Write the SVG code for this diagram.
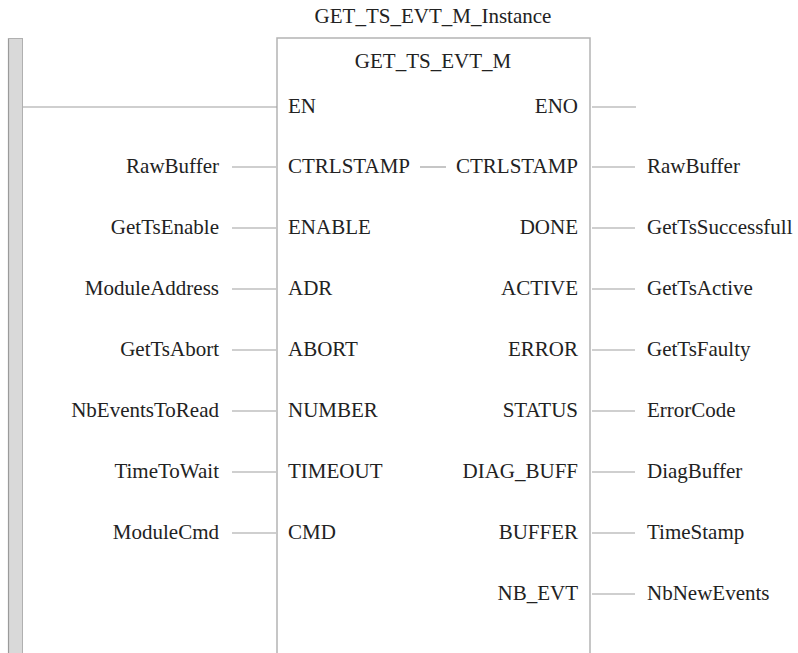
<svg xmlns="http://www.w3.org/2000/svg" width="798" height="653" viewBox="0 0 798 653" font-family="Liberation Serif, Times New Roman, serif" font-size="21">
<style>
.t{font-family:'Liberation Serif','Times New Roman',serif;font-size:21px;fill:#222}
.l{text-anchor:end}
.m{text-anchor:middle}
.w{stroke:#a0a0a0;stroke-width:1.2;fill:none}
.box{stroke:#b4b4b4;stroke-width:1.5;fill:#fff}
</style>
<rect width="798" height="653" fill="#fff"/>
<g id="rail">
<rect x="8" y="38" width="15" height="620" fill="#d9d9d9" stroke="none"/>
<line x1="8.5" y1="38" x2="8.5" y2="653" stroke="#9a9a9a" stroke-width="1.2"/>
<line x1="22.5" y1="38" x2="22.5" y2="653" stroke="#b0b0b0" stroke-width="1"/>
<line x1="8" y1="38.5" x2="23" y2="38.5" stroke="#b0b0b0" stroke-width="1"/>
</g>
<g id="block" class="t">
<text class="m" x="433" y="23">GET_TS_EVT_M_Instance</text>
<path class="box" d="M277,660 V38 H590 V660"/>
<text class="m" x="433" y="68">GET_TS_EVT_M</text>
<text x="288" y="113">EN</text>
<text class="l" x="578" y="113">ENO</text>
<text x="288" y="173">CTRLSTAMP</text>
<text class="l" x="578" y="173">CTRLSTAMP</text>
<text x="288" y="234">ENABLE</text>
<text class="l" x="578" y="234">DONE</text>
<text x="288" y="295">ADR</text>
<text class="l" x="578" y="295">ACTIVE</text>
<text x="288" y="356">ABORT</text>
<text class="l" x="578" y="356">ERROR</text>
<text x="288" y="417">NUMBER</text>
<text class="l" x="578" y="417">STATUS</text>
<text x="288" y="478">TIMEOUT</text>
<text class="l" x="578" y="478">DIAG_BUFF</text>
<text x="288" y="539">CMD</text>
<text class="l" x="578" y="539">BUFFER</text>
<text class="l" x="578" y="600">NB_EVT</text>
</g>
<g id="inputs" class="t">
<text class="l" x="219" y="173">RawBuffer</text>
<text class="l" x="219" y="234">GetTsEnable</text>
<text class="l" x="219" y="295">ModuleAddress</text>
<text class="l" x="219" y="356">GetTsAbort</text>
<text class="l" x="219" y="417">NbEventsToRead</text>
<text class="l" x="219" y="478">TimeToWait</text>
<text class="l" x="219" y="539">ModuleCmd</text>
</g>
<g id="outputs" class="t">
<text x="647" y="173">RawBuffer</text>
<text x="647" y="234">GetTsSuccessfull</text>
<text x="647" y="295">GetTsActive</text>
<text x="647" y="356">GetTsFaulty</text>
<text x="647" y="417">ErrorCode</text>
<text x="647" y="478">DiagBuffer</text>
<text x="647" y="539">TimeStamp</text>
<text x="647" y="600">NbNewEvents</text>
</g>
<g id="connectors" class="w">
<line x1="23" y1="107" x2="277" y2="107"/>
<line x1="592" y1="107" x2="636" y2="107"/>
<line x1="420" y1="167" x2="446" y2="167"/>
<line x1="232" y1="167" x2="276" y2="167"/>
<line x1="232" y1="228" x2="276" y2="228"/>
<line x1="232" y1="289" x2="276" y2="289"/>
<line x1="232" y1="350" x2="276" y2="350"/>
<line x1="232" y1="411" x2="276" y2="411"/>
<line x1="232" y1="472" x2="276" y2="472"/>
<line x1="232" y1="533" x2="276" y2="533"/>
<line x1="592" y1="167" x2="635" y2="167"/>
<line x1="592" y1="228" x2="635" y2="228"/>
<line x1="592" y1="289" x2="635" y2="289"/>
<line x1="592" y1="350" x2="635" y2="350"/>
<line x1="592" y1="411" x2="635" y2="411"/>
<line x1="592" y1="472" x2="635" y2="472"/>
<line x1="592" y1="533" x2="635" y2="533"/>
<line x1="592" y1="594" x2="635" y2="594"/>
</g>
</svg>
